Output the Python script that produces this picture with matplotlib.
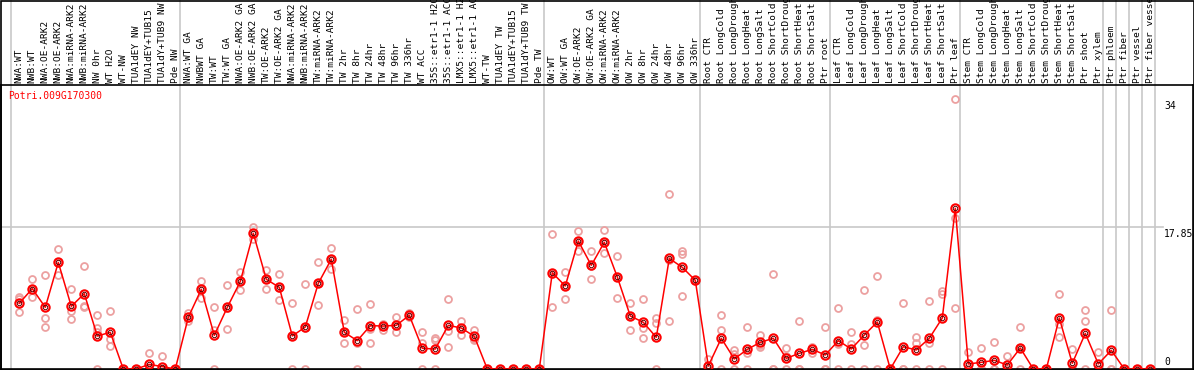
import numpy as np
import matplotlib
matplotlib.use('Agg')
import matplotlib.pyplot as plt
from matplotlib.patches import Rectangle

# sample labels, one per column
labels = [
    'NWA:WT', 'NWB:WT', 'NWA:OE-ARK2', 'NWB:OE-ARK2', 'NWA:miRNA-ARK2', 'NWB:miRNA-ARK2',
    'NW 0hr', 'WT H2O', 'WT-NW', 'TUA1dEY NW', 'TUA1dEY+TUB15', 'TUA1dY+TUB9 NW', 'Pde NW',
    'NWA:WT GA', 'NWBWT GA', 'TW:WT', 'TW:WT GA', 'NWA:OE-ARK2 GA', 'NWB:OE-ARK2 GA',
    'TW:OE-ARK2', 'TW:OE-ARK2 GA', 'NWA:miRNA-ARK2', 'NWB:miRNA-ARK2', 'TW:miRNA-ARK2',
    'TW:miRNA-ARK2', 'TW 2hr', 'TW 8hr', 'TW 24hr', 'TW 48hr', 'TW 96hr', 'TW 336hr',
    'WT ACC', '35S::etr1-1 H2O', '35S::etr1-1 ACC', 'LMX5::etr1-1 H2O', 'LMX5::etr1-1 ACC',
    'WT-TW', 'TUA1dEY TW', 'TUA1dEY+TUB15', 'TUA1dY+TUB9 TW', 'Pde TW',
    'OW:WT', 'OW:WT GA', 'OW:OE-ARK2', 'OW:OE-ARK2 GA', 'OW:miRNA-ARK2', 'OW:miRNA-ARK2',
    'OW 2hr', 'OW 8hr', 'OW 24hr', 'OW 48hr', 'OW 96hr', 'OW 336hr',
    'Root CTR', 'Root LongCold', 'Root LongDrought', 'Root LongHeat', 'Root LongSalt',
    'Root ShortCold', 'Root ShortDrought', 'Root ShortHeat', 'Root ShortSalt', 'Ptr root',
    'Leaf CTR', 'Leaf LongCold', 'Leaf LongDrought', 'Leaf LongHeat', 'Leaf LongSalt',
    'Leaf ShortCold', 'Leaf ShortDrought', 'Leaf ShortHeat', 'Leaf ShortSalt', 'Ptr leaf',
    'Stem CTR', 'Stem LongCold', 'Stem LongDrought', 'Stem LongHeat', 'Stem LongSalt',
    'Stem ShortCold', 'Stem ShortDrought', 'Stem ShortHeat', 'Stem ShortSalt', 'Ptr shoot',
    'Ptr xylem', 'Ptr phloem', 'Ptr fiber', 'Ptr vessel', 'Ptr fiber vessel',
]

# first column of each group (gray separators)
group_starts = [0, 13, 41, 53, 63, 73, 84, 85, 86, 87, 88]

# mean expression per column
means = [
    8.26, 10.1, 7.75, 13.4, 7.88, 9.47, 4.15, 4.61, 0, 0, 0.58, 0.3, 0,
    6.5, 10.02, 4.23, 7.75, 11.0, 17.06, 11.27, 10.27, 4.15, 5.28, 10.77, 13.8,
    4.61, 3.56, 5.45, 5.4, 5.49, 6.75, 2.6, 2.51, 5.49, 5.15, 4.11, 0, 0, 0, 0, 0,
    12.1, 10.43, 16.09, 13.03, 15.93, 11.57, 6.66, 5.87, 3.98, 13.9, 12.78, 11.15,
    0.38, 3.86, 1.26, 2.47, 3.35, 3.86, 1.34, 1.97, 2.47, 1.76,
    3.56, 2.51, 4.27, 5.91, 0, 2.8, 2.39, 3.86, 6.41, 20.2,
    0.63, 0.84, 1.09, 0.5, 2.64, 0, 0, 6.41, 0.71, 4.48, 0.63,
    2.35, 0, 0, 0,
]

# replicate values per column
reps = [
    [9.0, 8.76, 7.13], [11.3, 9.1, 9.9], [11.78, 6.37, 5.24], [15.05, 11.86, 13.3],
    [10.0, 7.33, 6.25], [13.0, 7.92, 7.75], [6.75, 5.2, 4.65, 0], [7.29, 3.73, 2.93],
    [0, 0, 0], [0, 0, 0], [1.97, 0, 0], [1.63, 0, 0], [0, 0, 0],
    [7.0, 6.07, 6.4], [11.0, 8.97, 10.0], [7.83, 4.9, 0], [10.5, 4.99, 7.7],
    [12.15, 9.89, 11.0], [17.85, 16.3, 17.0], [12.5, 10.0, 11.3], [11.94, 8.64, 10.2],
    [8.26, 0, 4.2], [10.7, 0, 5.2], [13.4, 8.0, 10.8], [15.17, 12.53, 13.8],
    [6.16, 3.23, 4.6], [7.5, 3.3, 0], [8.13, 4.99, 3.23], [5.66, 4.9, 5.4],
    [6.54, 4.61, 5.4], [7.08, 6.58, 6.7], [4.61, 3.3, 0], [3.94, 3.65, 0],
    [8.76, 4.82, 2.77], [6.03, 4.23, 5.2], [4.9, 3.65, 3.8],
    [0, 0, 0], [0, 0, 0], [0, 0, 0], [0, 0, 0], [0, 0, 0],
    [16.97, 7.75, 12.0], [12.15, 8.76, 10.4], [17.3, 14.83, 16.1], [14.83, 11.27, 13.0],
    [17.43, 14.54, 15.9], [14.17, 8.93, 11.6], [8.26, 4.86, 6.7], [8.8, 5.11, 3.9],
    [6.45, 5.82, 0], [22.0, 6.0, 13.7], [14.83, 14.46, 9.18], [11.2, 11.1, 11.15],
    [1.26, 0, 0], [6.79, 4.86, 0], [2.39, 1.84, 0], [5.28, 1.97, 0], [4.32, 2.73, 3.0],
    [11.9, 0, 0], [2.6, 1.63, 0], [6.03, 0, 0], [2.8, 2.6, 2.0], [5.28, 0, 0],
    [7.63, 3.1, 0], [4.61, 3.1, 0], [9.93, 2.98, 0], [11.65, 6.16, 0], [0, 0, 0],
    [8.26, 0, 0], [4.06, 3.23, 0], [8.55, 3.3, 0], [9.84, 9.39, 0], [34.0, 19.0, 7.63],
    [2.1, 0, 0], [2.64, 0, 0], [3.35, 0, 0], [1.63, 0, 0], [5.24, 2.6, 0],
    [0, 0, 0], [0, 0, 0], [9.43, 5.66, 4.02], [2.51, 0, 0], [7.42, 6.03, 0],
    [2.1, 0, 0], [7.42, 0, 0], [0, 0, 0], [0, 0, 0], [0, 0, 0],
]

gene = 'Potri.009G170300'
ymax = 35.7
tick_vals = [34, 17.85, 0]

W, H = 1194, 370
fig = plt.figure(figsize=(W / 100, H / 100), dpi=100)
# plot area: pixel x 1..1193, y 85..369
ax = fig.add_axes([1 / W, 1 / H, 1192 / W, 284 / H])
x = np.arange(len(labels))
ax.set_xlim((1 - 19.3) / 13, (1193 - 19.3) / 13)
ax.set_ylim(0, ymax)
ax.set_xticks([])
ax.set_yticks([])
for s in ax.spines.values():
    s.set_color('black')
    s.set_linewidth(1.2)

grey = '#c8c8c8'
# vertical separators run through the header too
for g in group_starts:
    ax.axvline(g - 0.62, ymin=0, ymax=370 / 284, color=grey, lw=1.2, clip_on=False, zorder=1)
ax.plot([ax.get_xlim()[0], (1163 - 19.3) / 13], [ymax / 2, ymax / 2], color=grey, lw=1.2, zorder=1)

# replicates
for i, r in enumerate(reps):
    ax.plot([i] * len(r), r, linestyle='none', marker='o', ms=5, mfc='none',
            mec='#eca0a0', mew=1.3, zorder=2)

# mean line
ax.plot(x, means, color='red', lw=1.1, zorder=3)
ax.plot(x, means, linestyle='none', marker='o', ms=6, mfc='none', mec='red', mew=1.5, zorder=4)
ax.plot(x, means, linestyle='none', marker='o', ms=3.2, mfc='none', mec='#600000', mew=0.7, zorder=5)

mono = 'DejaVu Sans Mono'
ax.text(7 / 1192, 1 - 6 / 284, gene, transform=ax.transAxes, color='red',
        fontsize=7, family=mono, ha='left', va='top')

for v in tick_vals:
    va = 'bottom' if v == 0 else 'top'
    off = 0.3 if v == 0 else -0.3
    ax.text((1164 - 1) / 1192, v + off, f'{v:g}', transform=ax.get_yaxis_transform(),
            fontsize=7, family=mono, ha='left', va=va)

# header labels
for i, lab in enumerate(labels):
    ax.text(i, 1 + 2 / 284, lab, transform=ax.get_xaxis_transform(), rotation=90,
            ha='center', va='bottom', fontsize=6.8, family=mono, clip_on=False)

fig.patches.append(Rectangle((0.5 / W, 0.5 / H), 1 - 1 / W, 1 - 1 / H, transform=fig.transFigure,
                             fill=False, edgecolor='black', lw=1.2))

fig.savefig('out.png', dpi=100)
